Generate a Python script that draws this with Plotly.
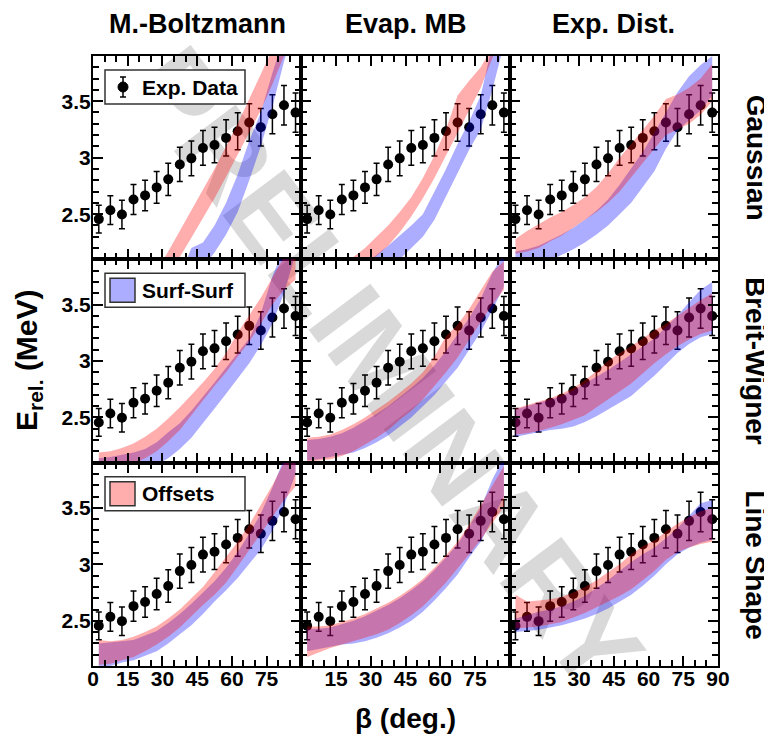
import plotly.graph_objects as go

# ---------------- data ----------------
beta = [2.5, 7.5, 12.5, 17.5, 22.5, 27.5, 32.5, 37.5, 42.5, 47.5, 52.5, 57.5, 62.5, 67.5, 72.5, 77.5, 82.5, 87.5]
e_rel = [2.456, 2.535, 2.497, 2.63, 2.666, 2.737, 2.808, 2.94, 2.994, 3.086, 3.112, 3.175, 3.234, 3.311, 3.27, 3.385, 3.464, 3.399]
e_err = [0.123, 0.127, 0.126, 0.133, 0.135, 0.14, 0.143, 0.152, 0.154, 0.154, 0.158, 0.161, 0.163, 0.166, 0.166, 0.173, 0.175, 0.173]

col_titles = ["M.-Boltzmann", "Evap. MB", "Exp. Dist."]
row_titles = ["Gaussian", "Breit-Wigner", "Line Shape"]
x_tickvals_left = [0, 15, 30, 45, 60, 75]
x_tickvals_mid = [15, 30, 45, 60, 75]
x_tickvals_right = [15, 30, 45, 60, 75, 90]
y_tickvals = [2.5, 3.0, 3.5]
y_ticktext = ["2.5", "3", "3.5"]

# Surf-Surf (blue) and Offsets (red) bands: low / high edges at each beta
surf_lo_mb_ga = [1.3, 1.35, 1.4, 1.45, 1.5, 1.56, 1.63, 1.72, 1.85, 2.03, 2.16, 2.32, 2.52, 2.8, 3.1, 3.45, 3.85, 4.2]
surf_hi_mb_ga = [1.5, 1.56, 1.62, 1.68, 1.74, 1.8, 1.86, 1.95, 2.2, 2.25, 2.4, 2.6, 2.85, 3.15, 3.4, 3.75, 4.1, 4.4]
off_lo_mb_ga = [1.37, 1.43, 1.5, 1.58, 1.68, 1.8, 1.95, 2.12, 2.29, 2.46, 2.64, 2.83, 3.02, 3.22, 3.42, 3.65, 3.9, 4.15]
off_hi_mb_ga = [1.5, 1.58, 1.66, 1.74, 1.85, 2.0, 2.17, 2.35, 2.53, 2.72, 2.9, 3.1, 3.3, 3.52, 3.75, 3.98, 4.2, 4.4]

surf_lo_emb_ga = [1.6, 1.65, 1.7, 1.76, 1.82, 1.88, 1.95, 2.02, 2.1, 2.2, 2.3, 2.45, 2.65, 2.86, 3.07, 3.25, 3.6, 4.0]
surf_hi_emb_ga = [1.7, 1.76, 1.82, 1.88, 1.95, 2.05, 2.14, 2.22, 2.31, 2.4, 2.5, 2.7, 2.9, 3.12, 3.32, 3.55, 4.0, 4.3]
off_lo_emb_ga = [1.72, 1.78, 1.84, 1.9, 1.97, 2.06, 2.13, 2.22, 2.34, 2.48, 2.64, 2.82, 3.02, 3.22, 3.42, 3.62, 3.88, 4.1]
off_hi_emb_ga = [1.83, 1.9, 1.97, 2.04, 2.12, 2.2, 2.3, 2.4, 2.52, 2.65, 2.82, 3.02, 3.25, 3.55, 3.68, 3.8, 3.98, 4.2]

surf_lo_ed_ga = [2.0, 2.03, 2.06, 2.09, 2.14, 2.19, 2.25, 2.32, 2.4, 2.5, 2.6, 2.74, 2.88, 3.08, 3.24, 3.33, 3.42, 3.55]
surf_hi_ed_ga = [2.17, 2.19, 2.22, 2.27, 2.32, 2.38, 2.45, 2.53, 2.63, 2.76, 2.9, 3.05, 3.22, 3.4, 3.58, 3.72, 3.82, 3.9]
off_lo_ed_ga = [2.15, 2.17, 2.2, 2.26, 2.31, 2.38, 2.45, 2.52, 2.6, 2.7, 2.82, 2.95, 3.08, 3.2, 3.25, 3.3, 3.38, 3.5]
off_hi_ed_ga = [2.28, 2.35, 2.41, 2.47, 2.52, 2.58, 2.65, 2.74, 2.86, 3.0, 3.12, 3.24, 3.37, 3.52, 3.56, 3.62, 3.7, 3.83]

surf_lo_mb_bw = [1.9, 1.93, 1.96, 2.0, 2.04, 2.08, 2.14, 2.22, 2.32, 2.45, 2.58, 2.71, 2.84, 2.98, 3.14, 3.33, 3.6, 3.95]
surf_hi_mb_bw = [2.14, 2.15, 2.17, 2.19, 2.22, 2.28, 2.37, 2.45, 2.56, 2.68, 2.81, 2.94, 3.07, 3.2, 3.42, 3.75, 4.0, 4.2]
off_lo_mb_bw = [2.0, 2.02, 2.05, 2.09, 2.14, 2.2, 2.29, 2.39, 2.52, 2.65, 2.78, 2.9, 3.04, 3.17, 3.33, 3.5, 3.63, 3.72]
off_hi_mb_bw = [2.19, 2.2, 2.23, 2.27, 2.33, 2.4, 2.49, 2.59, 2.7, 2.81, 2.93, 3.07, 3.25, 3.4, 3.56, 3.74, 3.92, 4.05]

surf_lo_emb_bw = [2.12, 2.13, 2.15, 2.17, 2.19, 2.23, 2.28, 2.34, 2.42, 2.5, 2.6, 2.7, 2.82, 2.94, 3.1, 3.26, 3.45, 3.66]
surf_hi_emb_bw = [2.3, 2.31, 2.33, 2.36, 2.41, 2.47, 2.53, 2.6, 2.68, 2.76, 2.85, 2.96, 3.09, 3.23, 3.38, 3.55, 3.78, 3.95]
off_lo_emb_bw = [2.11, 2.12, 2.13, 2.16, 2.2, 2.26, 2.32, 2.39, 2.48, 2.56, 2.66, 2.78, 2.9, 3.03, 3.18, 3.34, 3.5, 3.63]
off_hi_emb_bw = [2.32, 2.33, 2.35, 2.39, 2.44, 2.5, 2.57, 2.64, 2.72, 2.8, 2.9, 3.04, 3.22, 3.32, 3.46, 3.63, 3.79, 3.88]

surf_lo_ed_bw = [2.33, 2.35, 2.37, 2.39, 2.4, 2.42, 2.46, 2.51, 2.57, 2.63, 2.69, 2.78, 2.87, 2.97, 3.07, 3.15, 3.21, 3.24]
surf_hi_ed_bw = [2.57, 2.6, 2.63, 2.66, 2.69, 2.74, 2.8, 2.86, 2.92, 2.99, 3.06, 3.13, 3.2, 3.3, 3.4, 3.52, 3.63, 3.7]
off_lo_ed_bw = [2.35, 2.36, 2.38, 2.41, 2.44, 2.48, 2.52, 2.59, 2.66, 2.73, 2.8, 2.89, 2.98, 3.06, 3.13, 3.19, 3.24, 3.27]
off_hi_ed_bw = [2.58, 2.61, 2.64, 2.67, 2.71, 2.76, 2.83, 2.91, 3.0, 3.07, 3.13, 3.2, 3.27, 3.33, 3.4, 3.47, 3.54, 3.6]

surf_lo_mb_ls = [2.08, 2.1, 2.13, 2.15, 2.19, 2.23, 2.3, 2.38, 2.46, 2.56, 2.67, 2.77, 2.88, 3.0, 3.13, 3.3, 3.52, 3.8]
surf_hi_mb_ls = [2.3, 2.31, 2.32, 2.33, 2.37, 2.41, 2.48, 2.56, 2.65, 2.75, 2.85, 2.97, 3.11, 3.27, 3.45, 3.68, 3.93, 4.1]
off_lo_mb_ls = [2.11, 2.12, 2.15, 2.18, 2.23, 2.29, 2.36, 2.44, 2.54, 2.64, 2.73, 2.84, 2.98, 3.12, 3.27, 3.42, 3.57, 3.69]
off_hi_mb_ls = [2.33, 2.32, 2.33, 2.36, 2.4, 2.45, 2.52, 2.6, 2.7, 2.8, 2.93, 3.06, 3.2, 3.35, 3.52, 3.7, 3.9, 4.05]

surf_lo_emb_ls = [2.23, 2.25, 2.27, 2.29, 2.3, 2.32, 2.35, 2.39, 2.44, 2.5, 2.58, 2.68, 2.79, 2.91, 3.06, 3.2, 3.4, 3.6]
surf_hi_emb_ls = [2.43, 2.43, 2.44, 2.47, 2.5, 2.54, 2.59, 2.64, 2.7, 2.77, 2.85, 2.95, 3.06, 3.18, 3.33, 3.5, 3.75, 3.95]
off_lo_emb_ls = [2.18, 2.22, 2.26, 2.29, 2.32, 2.35, 2.38, 2.42, 2.48, 2.55, 2.63, 2.73, 2.84, 2.96, 3.09, 3.22, 3.36, 3.51]
off_hi_emb_ls = [2.45, 2.45, 2.46, 2.49, 2.52, 2.56, 2.61, 2.66, 2.72, 2.79, 2.87, 2.97, 3.08, 3.2, 3.35, 3.52, 3.7, 3.87]

surf_lo_ed_ls = [2.4, 2.41, 2.42, 2.44, 2.46, 2.49, 2.52, 2.56, 2.61, 2.67, 2.73, 2.81, 2.9, 3.0, 3.09, 3.15, 3.19, 3.22]
surf_hi_ed_ls = [2.52, 2.55, 2.58, 2.6, 2.63, 2.67, 2.72, 2.79, 2.86, 2.94, 3.02, 3.09, 3.15, 3.23, 3.32, 3.43, 3.54, 3.57]
off_lo_ed_ls = [2.43, 2.44, 2.45, 2.47, 2.49, 2.53, 2.57, 2.62, 2.67, 2.72, 2.78, 2.86, 2.94, 3.04, 3.11, 3.15, 3.18, 3.2]
off_hi_ed_ls = [2.73, 2.67, 2.68, 2.69, 2.71, 2.75, 2.8, 2.86, 2.93, 3.0, 3.09, 3.16, 3.21, 3.29, 3.36, 3.42, 3.47, 3.5]

bands = {
    (0, 0): (surf_lo_mb_ga, surf_hi_mb_ga, off_lo_mb_ga, off_hi_mb_ga),
    (0, 1): (surf_lo_emb_ga, surf_hi_emb_ga, off_lo_emb_ga, off_hi_emb_ga),
    (0, 2): (surf_lo_ed_ga, surf_hi_ed_ga, off_lo_ed_ga, off_hi_ed_ga),
    (1, 0): (surf_lo_mb_bw, surf_hi_mb_bw, off_lo_mb_bw, off_hi_mb_bw),
    (1, 1): (surf_lo_emb_bw, surf_hi_emb_bw, off_lo_emb_bw, off_hi_emb_bw),
    (1, 2): (surf_lo_ed_bw, surf_hi_ed_bw, off_lo_ed_bw, off_hi_ed_bw),
    (2, 0): (surf_lo_mb_ls, surf_hi_mb_ls, off_lo_mb_ls, off_hi_mb_ls),
    (2, 1): (surf_lo_emb_ls, surf_hi_emb_ls, off_lo_emb_ls, off_hi_emb_ls),
    (2, 2): (surf_lo_ed_ls, surf_hi_ed_ls, off_lo_ed_ls, off_hi_ed_ls),
}

# ---------------- styling ----------------
# screen coordinates of the plot area (page body adds an 8 px offset)
OFF = 8
SW, SH = 772, 740
L, R, T, B = 93, 718, 56, 666
W, H = SW - OFF, SH - OFF
FONT = "Liberation Sans, Arial, Helvetica, sans-serif"
BLUE = "rgba(0,0,255,0.32)"
RED = "rgba(255,0,0,0.32)"


def px(x):
    return (x - L) / (R - L)


def py(y):
    return (B - y) / (B - T)


fig = go.Figure()
layout_axes = {}
for r in range(3):
    for c in range(3):
        k = r * 3 + c + 1
        xa = "x" if k == 1 else f"x{k}"
        ya = "y" if k == 1 else f"y{k}"
        fig.add_trace(go.Scatter(
            x=beta, y=e_rel, mode="markers",
            marker=dict(color="black", size=10),
            error_y=dict(type="data", array=e_err, color="black", thickness=1.5, width=3),
            xaxis=xa, yaxis=ya, showlegend=False, name="Exp. Data"))
        slo, shi, olo, ohi = bands[(r, c)]
        for lo, hi, colr, nm in ((slo, shi, BLUE, "Surf-Surf"), (olo, ohi, RED, "Offsets")):
            fig.add_trace(go.Scatter(
                x=beta + beta[::-1], y=hi + lo[::-1], fill="toself", fillcolor=colr,
                mode="lines", line=dict(width=0), hoverinfo="skip",
                xaxis=xa, yaxis=ya, showlegend=False, name=nm))
        xkey = "xaxis" if k == 1 else f"xaxis{k}"
        ykey = "yaxis" if k == 1 else f"yaxis{k}"
        tv = [x_tickvals_left, x_tickvals_mid, x_tickvals_right][c]
        layout_axes[xkey] = dict(
            domain=[c / 3, (c + 1) / 3], anchor=ya, range=[0, 90],
            tickmode="array", tickvals=tv, ticktext=[str(v) for v in tv],
            showticklabels=(r == 2), ticklabelstandoff=-7,
            ticks="inside", ticklen=10, tickwidth=2, tickcolor="black",
            minor=dict(ticks="inside", ticklen=6, tickwidth=1.5, tickcolor="black",
                       tickmode="linear", tick0=0, dtick=5),
            showline=True, linewidth=2, linecolor="black", mirror="allticks",
            showgrid=False, zeroline=False,
            tickfont=dict(family=FONT, size=21, color="black", weight="bold"))
        layout_axes[ykey] = dict(
            domain=[1 - (r + 1) / 3, 1 - r / 3], anchor=xa, range=[2.1, 3.9],
            tickmode="array", tickvals=y_tickvals, ticktext=y_ticktext,
            showticklabels=(c == 0), ticklabelstandoff=-4,
            ticks="inside", ticklen=10, tickwidth=2, tickcolor="black",
            minor=dict(ticks="inside", ticklen=6, tickwidth=1.5, tickcolor="black",
                       tickmode="linear", tick0=2.0, dtick=0.1),
            showline=True, linewidth=2, linecolor="black", mirror="allticks",
            showgrid=False, zeroline=False,
            tickfont=dict(family=FONT, size=21, color="black", weight="bold"))

fig.update_layout(**layout_axes)

annotations = []
for c, t in enumerate(col_titles):
    annotations.append(dict(text=t, x=(c + 0.5) / 3, y=py(24), xref="paper", yref="paper",
                            showarrow=False, xanchor="center", yanchor="middle",
                            font=dict(family=FONT, size=27, color="black", weight="bold")))
for r, t in enumerate(row_titles):
    annotations.append(dict(text=t, x=px(756), y=1 - (r + 0.5) / 3, xref="paper", yref="paper",
                            showarrow=False, textangle=90, xanchor="center", yanchor="middle",
                            font=dict(family=FONT, size=28, color="black", weight="bold")))
annotations.append(dict(text="E<sub>rel.</sub> (MeV)", x=px(28), y=py(360), xref="paper", yref="paper",
                        showarrow=False, textangle=-90, xanchor="center", yanchor="middle",
                        font=dict(family=FONT, size=30, color="black", weight="bold")))
annotations.append(dict(text="β (deg.)", x=0.5, y=py(718), xref="paper", yref="paper",
                        showarrow=False, xanchor="center", yanchor="middle",
                        font=dict(family=FONT, size=28, color="black", weight="bold")))

shapes = []
# watermark
shapes.append(dict(type="rect", xref="paper", yref="paper",
                   x0=px(345), x1=px(445), y0=py(412), y1=py(312),
                   line=dict(width=0), fillcolor="rgba(0,0,0,0)", layer="below",
                   label=dict(text="PRELIMINARY", textangle=53, textposition="middle center",
                              font=dict(family=FONT, size=112, color="#d9d9d9", weight="bold"))))

legend_texts = ["Exp. Data", "Surf-Surf", "Offsets"]
for r in range(3):
    top = T + r * (B - T) / 3
    shapes.append(dict(type="rect", xref="paper", yref="paper",
                       x0=px(105), x1=px(245), y0=py(top + 48), y1=py(top + 14),
                       line=dict(color="#333333", width=1.5), fillcolor="white", layer="above"))
    if r == 0:
        shapes.append(dict(type="line", xref="paper", yref="paper",
                           x0=px(123), x1=px(123), y0=py(top + 41), y1=py(top + 21),
                           line=dict(color="black", width=1.5)))
        for yy in (top + 21, top + 41):
            shapes.append(dict(type="line", xref="paper", yref="paper",
                               x0=px(120), x1=px(126), y0=py(yy), y1=py(yy),
                               line=dict(color="black", width=1.5)))
        shapes.append(dict(type="circle", xref="paper", yref="paper",
                           x0=px(118), x1=px(128), y0=py(top + 36), y1=py(top + 26),
                           line=dict(color="black", width=1), fillcolor="black"))
    else:
        shapes.append(dict(type="rect", xref="paper", yref="paper",
                           x0=px(110), x1=px(135), y0=py(top + 43), y1=py(top + 19),
                           line=dict(color="#333333", width=1.5),
                           fillcolor=BLUE if r == 1 else RED))
    annotations.append(dict(text=legend_texts[r], x=px(140), y=py(top + 31), xref="paper", yref="paper",
                            showarrow=False, xanchor="left", yanchor="middle",
                            font=dict(family=FONT, size=21, color="black", weight="bold")))

fig.update_layout(
    width=W, height=H,
    margin=dict(l=L - OFF, r=SW - R, t=T - OFF, b=SH - B, pad=0),
    paper_bgcolor="white", plot_bgcolor="rgba(0,0,0,0)",
    showlegend=False,
    annotations=annotations, shapes=shapes,
    font=dict(family=FONT, color="black"),
)

fig.write_html("out.html")
